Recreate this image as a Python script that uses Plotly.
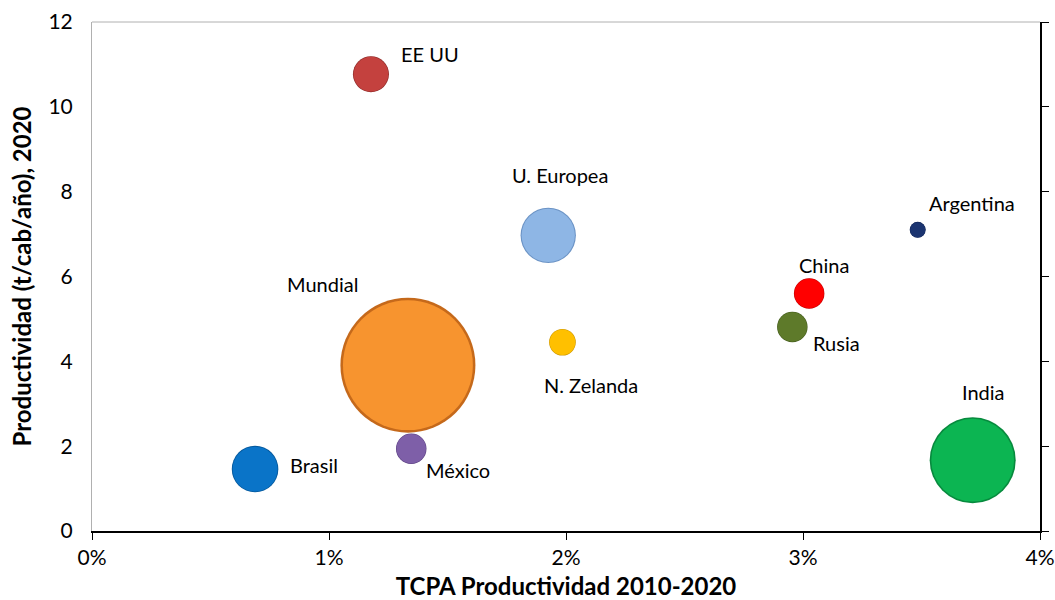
import plotly.graph_objects as go


# ==========================================================
# Data
# ==========================================================

countries = ["EE UU", "U. Europea", "Argentina", "China", "Rusia",
             "N. Zelanda", "Mundial", "México", "Brasil", "India"]

tcpa = [0.01177, 0.01925, 0.03484, 0.03026, 0.02955,
        0.01985, 0.01333, 0.01347, 0.00688, 0.03716]

productividad = [10.77, 6.97, 7.10, 5.60, 4.81,
                 4.45, 3.91, 1.94, 1.46, 1.67]

bubble_size = [7.1, 16.8, 1.4, 5.1, 5.1,
               3.9, 100, 5.1, 11.9, 40.6]

colors = ["#C4413E", "#8EB6E5", "#1B3470", "#FF0000", "#5E7A2A",
          "#FFC000", "#F7942F", "#7E5FA8", "#0A74C8", "#0CB552"]

edge_colors = ["#8E2B29", "#6A92C4", "#0F2150", "#C20000", "#425A1C",
               "#CC9600", "#C4681A", "#5A3F80", "#05589C", "#07893D"]

# label offsets (px) from each bubble centre
label_dx = [59, 12, 54, 15, 44, 29, -85, 47, 59, 11]
label_dy = [20, 60, 27, 28, -16, -43, 81, -21, 4, 68]

FONT = "Lato"


# ==========================================================
# Bubble chart
# ==========================================================

max_diam = 135
sizeref = 2.0 * max(bubble_size) / (max_diam ** 2)

fig = go.Figure()

# darker rim (full size, radial shading towards the edge)
fig.add_trace(go.Scatter(
    x=tcpa,
    y=productividad,
    mode="markers",
    marker={
        "size": bubble_size,
        "sizemode": "area",
        "sizeref": sizeref,
        "color": edge_colors,
        "gradient": {"type": "radial", "color": colors},
        "line": {"width": 0},
        "opacity": 1,
    },
    hoverinfo="skip",
    showlegend=False,
))

# flat face of the bubble
fig.add_trace(go.Scatter(
    x=tcpa,
    y=productividad,
    mode="markers",
    marker={
        "size": bubble_size,
        "sizemode": "area",
        "sizeref": sizeref * 1.08,
        "color": colors,
        "line": {"width": 0},
        "opacity": 1,
    },
    hovertext=countries,
    showlegend=False,
))

# y2 axis only to draw the right-hand black line with ticks
fig.add_trace(go.Scatter(
    x=[None], y=[None], yaxis="y2", showlegend=False, hoverinfo="skip"
))

for name, xv, yv, dx, dy in zip(countries, tcpa, productividad, label_dx, label_dy):
    fig.add_annotation(
        x=xv, y=yv, text=name, showarrow=False,
        xshift=dx, yshift=dy,
        font={"family": FONT, "size": 20, "color": "#000000"},
    )

fig.update_layout(
    width=1055,
    height=600,
    margin={"l": 92, "r": 15, "t": 22, "b": 69},
    plot_bgcolor="white",
    paper_bgcolor="white",
    font={"family": FONT, "size": 21, "color": "#000000"},
    xaxis={
        "range": [0, 0.04],
        "dtick": 0.01,
        "tickformat": ".0%",
        "automargin": False,
        "showgrid": False,
        "zeroline": False,
        "showline": True,
        "linecolor": "#000000",
        "linewidth": 1.5,
        "ticks": "outside",
        "ticklen": 7,
        "tickcolor": "#000000",
        "tickfont": {"size": 21},
        "title": {"text": "<b>TCPA Productividad 2010-2020</b>",
                  "font": {"size": 24}, "standoff": 15},
    },
    yaxis={
        "range": [0, 12],
        "dtick": 2,
        "automargin": False,
        "showgrid": False,
        "zeroline": False,
        "showline": True,
        "linecolor": "#B0B0B0",
        "linewidth": 1,
        "ticks": "",
        "ticklabelstandoff": 14,
        "tickfont": {"size": 21},
        "title": {"text": "<b>Productividad (t/cab/año), 2020</b>",
                  "font": {"size": 24}, "standoff": 10},
    },
    yaxis2={
        "range": [0, 12],
        "dtick": 2,
        "overlaying": "y",
        "side": "right",
        "automargin": False,
        "showgrid": False,
        "zeroline": False,
        "showline": True,
        "linecolor": "#000000",
        "linewidth": 1.5,
        "ticks": "outside",
        "ticklen": 7,
        "tickcolor": "#000000",
        "showticklabels": False,
    },
    shapes=[{
        "type": "line", "xref": "paper", "yref": "paper",
        "x0": 0, "x1": 1, "y0": 1, "y1": 1,
        "line": {"color": "#B0B0B0", "width": 1},
    }],
)

# page body has a default 8px margin; remove it so the chart fills the window
fig.write_html(
    "out.html",
    config={"displayModeBar": False},
    post_script="document.body.style.margin='0px';",
)
